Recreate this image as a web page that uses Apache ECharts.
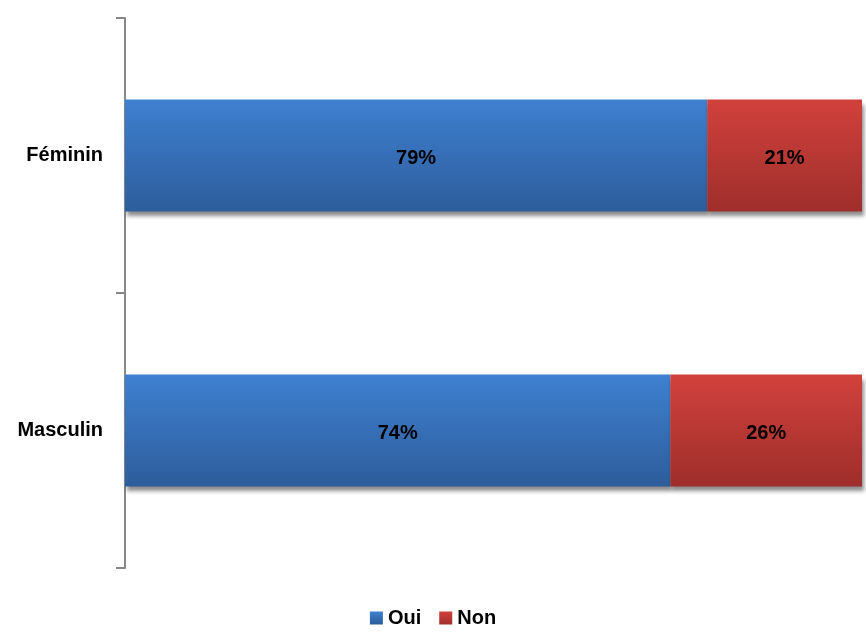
<!DOCTYPE html>
<html><head><meta charset="utf-8">
<script src="https://cdn.jsdelivr.net/npm/echarts@6/dist/echarts.min.js"></script>
<style>html,body{margin:0;padding:0;background:#fff}#c{width:866px;height:635px}</style>
</head><body><div id="c"></div>
<script>
const categories = ['Féminin', 'Masculin'];
const oui = [79, 74];
const non = [21, 26];
const seriesNames = ['Oui', 'Non'];

const chart = echarts.init(document.getElementById('c'));
function grad(a, b) {
  return new echarts.graphic.LinearGradient(0, 0, 0, 1, [{offset: 0, color: a}, {offset: 1, color: b}]);
}
const lbl = {show: true, position: 'inside', offset: [0, 3], formatter: p => p.value + '%', color: '#000',
  fontFamily: 'Liberation Sans, Arial', fontWeight: 'bold', fontSize: 20};
chart.setOption({
  animation: false,
  grid: {left: 125, right: 4, top: 18, bottom: 67},
  legend: {bottom: 2, left: 'center', icon: 'rect', itemWidth: 13, itemHeight: 13, itemGap: 18,
    textStyle: {fontFamily: 'Liberation Sans, Arial', fontWeight: 'bold', fontSize: 20, color: '#000'},
    data: seriesNames},
  xAxis: {type: 'value', min: 0, max: 100, show: false},
  yAxis: {type: 'category', data: categories, inverse: true,
    axisLine: {lineStyle: {color: '#888', width: 2}},
    axisTick: {show: true, length: 9, lineStyle: {color: '#888', width: 2}},
    axisLabel: {margin: 22, padding: [6, 0, 0, 0], color: '#000', fontFamily: 'Liberation Sans, Arial', fontWeight: 'bold', fontSize: 20}},
  series: [
    {name: seriesNames[0], type: 'bar', stack: 's', data: oui, barWidth: '40.7%',
      itemStyle: {color: grad('#3e80d0', '#2d5d9c'), shadowColor: 'rgba(0,0,0,0.45)', shadowBlur: 4, shadowOffsetY: 5, shadowOffsetX: 2},
      label: lbl},
    {name: seriesNames[1], type: 'bar', stack: 's', data: non, barWidth: '40.7%',
      itemStyle: {color: grad('#d2413c', '#9e2e2b'), shadowColor: 'rgba(0,0,0,0.45)', shadowBlur: 4, shadowOffsetY: 5, shadowOffsetX: 2},
      label: lbl}
  ]
});
</script></body></html>
